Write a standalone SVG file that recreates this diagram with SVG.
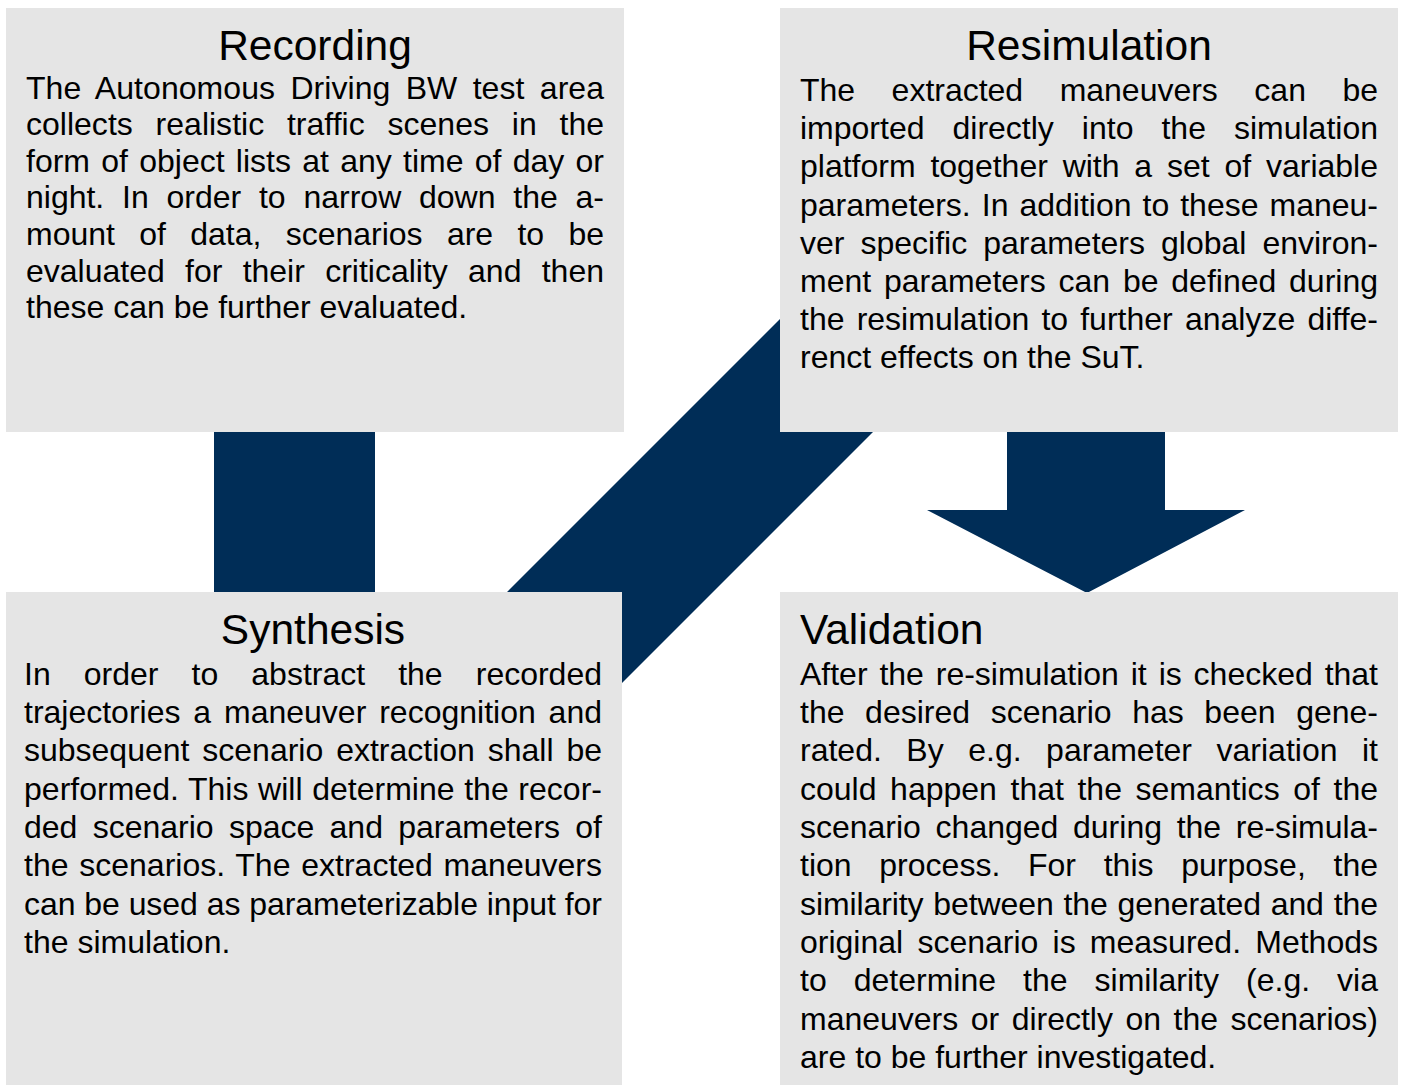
<svg xmlns="http://www.w3.org/2000/svg" width="1405" height="1085" viewBox="0 0 1405 1085">
<style>
.box{fill:#e5e5e5}
.conn{fill:#002d57}
text{font-family:"Liberation Sans",Arial,sans-serif;fill:#000}
.title{font-size:42.5px}
.body{font-size:32px}
</style>
<rect width="1405" height="1085" fill="#fff"/>
<g id="connectors">
<rect class="conn" x="214" y="420" width="161" height="180"/>
<polygon class="conn" points="507,592 780,319 780,432 873,432 622,683 622,592"/>
<polygon class="conn" points="1007,420 1165,420 1165,510 1245,510 1087,593 927,510 1007,510"/>
</g>
<g id="recording">
<rect class="box" x="6" y="8" width="618" height="424"/>
<text class="title" x="315" y="60" text-anchor="middle">Recording</text>
<text class="body" x="26" y="98.5" word-spacing="6.4" textLength="578" lengthAdjust="spacing">The Autonomous Driving BW test area</text>
<text class="body" x="26" y="135.1" word-spacing="13.9" textLength="578" lengthAdjust="spacing">collects realistic traffic scenes in the</text>
<text class="body" x="26" y="171.7" word-spacing="2.4" textLength="578" lengthAdjust="spacing">form of object lists at any time of day or</text>
<text class="body" x="26" y="208.3" word-spacing="8.9" textLength="578" lengthAdjust="spacing">night. In order to narrow down the a-</text>
<text class="body" x="26" y="244.9" word-spacing="15.4" textLength="578" lengthAdjust="spacing">mount of data, scenarios are to be</text>
<text class="body" x="26" y="281.5" word-spacing="11.4" textLength="578" lengthAdjust="spacing">evaluated for their criticality and then</text>
<text class="body" x="26" y="318.1">these can be further evaluated.</text>
</g>
<g id="resimulation">
<rect class="box" x="780" y="8" width="618" height="424"/>
<text class="title" x="1089" y="60" text-anchor="middle">Resimulation</text>
<text class="body" x="800" y="101" word-spacing="27.6" textLength="578" lengthAdjust="spacing">The extracted maneuvers can be</text>
<text class="body" x="800" y="139.2" word-spacing="19.1" textLength="578" lengthAdjust="spacing">imported directly into the simulation</text>
<text class="body" x="800" y="177.4" word-spacing="5.9" textLength="578" lengthAdjust="spacing">platform together with a set of variable</text>
<text class="body" x="800" y="215.6" word-spacing="2.1" textLength="578" lengthAdjust="spacing">parameters. In addition to these maneu-</text>
<text class="body" x="800" y="253.8" word-spacing="7.1" textLength="578" lengthAdjust="spacing">ver specific parameters global environ-</text>
<text class="body" x="800" y="292" word-spacing="3.9" textLength="578" lengthAdjust="spacing">ment parameters can be defined during</text>
<text class="body" x="800" y="330.2" word-spacing="3.2" textLength="578" lengthAdjust="spacing">the resimulation to further analyze diffe-</text>
<text class="body" x="800" y="368.4">renct effects on the SuT.</text>
</g>
<g id="synthesis">
<rect class="box" x="6" y="592" width="616" height="493"/>
<text class="title" x="313" y="644" text-anchor="middle">Synthesis</text>
<text class="body" x="24" y="684.5" word-spacing="24.2" textLength="578" lengthAdjust="spacing">In order to abstract the recorded</text>
<text class="body" x="24" y="722.85" word-spacing="4" textLength="578" lengthAdjust="spacing">trajectories a maneuver recognition and</text>
<text class="body" x="24" y="761.2" word-spacing="4" textLength="578" lengthAdjust="spacing">subsequent scenario extraction shall be</text>
<text class="body" x="24" y="799.55" word-spacing="0.7" textLength="578" lengthAdjust="spacing">performed. This will determine the recor-</text>
<text class="body" x="24" y="837.9" word-spacing="6.4" textLength="578" lengthAdjust="spacing">ded scenario space and parameters of</text>
<text class="body" x="24" y="876.25" word-spacing="1.8" textLength="578" lengthAdjust="spacing">the scenarios. The extracted maneuvers</text>
<text class="body" x="24" y="914.6" textLength="578" lengthAdjust="spacing">can be used as parameterizable input for</text>
<text class="body" x="24" y="952.95">the simulation.</text>
</g>
<g id="validation">
<rect class="box" x="780" y="592" width="618" height="493"/>
<text class="title" x="800" y="644">Validation</text>
<text class="body" x="800" y="684.5" word-spacing="3" textLength="578" lengthAdjust="spacing">After the re-simulation it is checked that</text>
<text class="body" x="800" y="722.85" word-spacing="11.7" textLength="578" lengthAdjust="spacing">the desired scenario has been gene-</text>
<text class="body" x="800" y="761.2" word-spacing="15.6" textLength="578" lengthAdjust="spacing">rated. By e.g. parameter variation it</text>
<text class="body" x="800" y="799.55" word-spacing="4.7" textLength="578" lengthAdjust="spacing">could happen that the semantics of the</text>
<text class="body" x="800" y="837.9" word-spacing="5.8" textLength="578" lengthAdjust="spacing">scenario changed during the re-simula-</text>
<text class="body" x="800" y="876.25" word-spacing="18.8" textLength="578" lengthAdjust="spacing">tion process. For this purpose, the</text>
<text class="body" x="800" y="914.6" word-spacing="1.1" textLength="578" lengthAdjust="spacing">similarity between the generated and the</text>
<text class="body" x="800" y="952.95" word-spacing="5.3" textLength="578" lengthAdjust="spacing">original scenario is measured. Methods</text>
<text class="body" x="800" y="991.3" word-spacing="18.1" textLength="578" lengthAdjust="spacing">to determine the similarity (e.g. via</text>
<text class="body" x="800" y="1029.65" word-spacing="3.6" textLength="578" lengthAdjust="spacing">maneuvers or directly on the scenarios)</text>
<text class="body" x="800" y="1068">are to be further investigated.</text>
</g>
</svg>
